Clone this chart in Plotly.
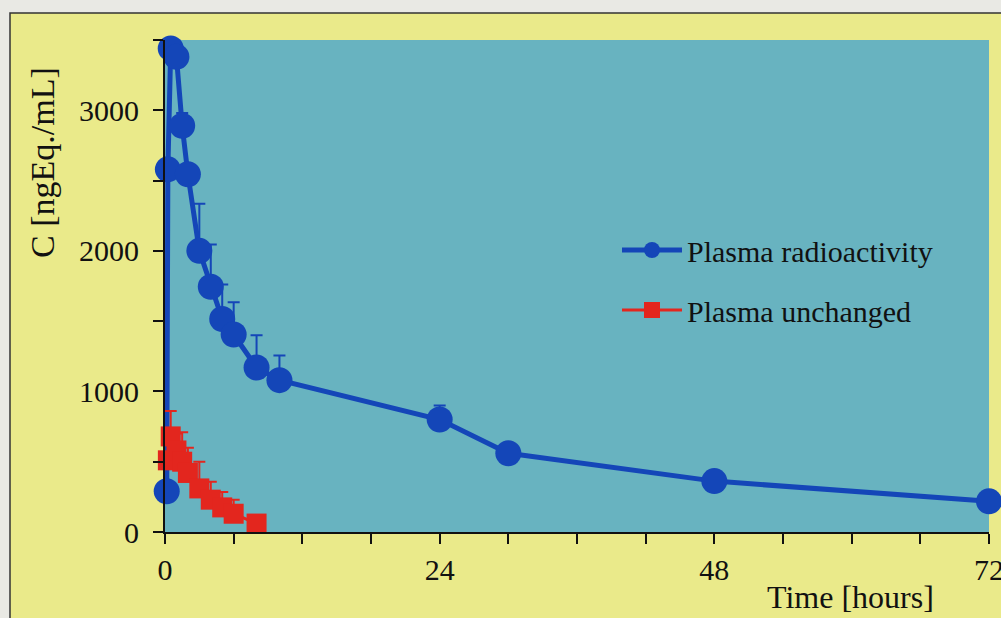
import plotly.graph_objects as go

# ---- data ----
time_radio = [0.15, 0.25, 0.5, 1, 1.5, 2, 3, 4, 5, 6, 8, 10, 24, 30, 48, 72]
conc_radio = [290, 2580, 3440, 3380, 2890, 2545, 2000, 1745, 1515, 1405, 1170, 1080, 800, 560, 362, 218]
err_radio = [0, 0, 160, 0, 90, 0, 336, 300, 245, 230, 230, 175, 100, 0, 0, 0]

time_unch = [0.25, 0.5, 1, 1.5, 2, 3, 4, 5, 6, 8]
conc_unch = [510, 680, 580, 500, 420, 310, 230, 175, 130, 60]
err_unch = [0, 180, 120, 210, 180, 190, 127, 110, 100, 0]

x_ticks = [0, 6, 12, 18, 24, 30, 36, 42, 48, 54, 60, 66, 72]
x_labels = ["0", "", "", "", "24", "", "", "", "48", "", "", "", "72"]
y_ticks = [0, 500, 1000, 1500, 2000, 2500, 3000, 3500]
y_labels = ["0", "", "1000", "", "2000", "", "3000", ""]

BLUE = "#1446B8"
RED = "#E3261E"
YELLOW = "#EAEA8A"
PLOTBG = "#68B3C0"
FONT = "Liberation Serif"

fig = go.Figure()
fig.add_trace(go.Scatter(
    x=time_radio, y=conc_radio, mode="lines+markers", name="Plasma radioactivity",
    legendgroup="a",
    line=dict(color=BLUE, width=5),
    marker=dict(color=BLUE, size=26, symbol="circle"),
    error_y=dict(type="data", array=err_radio, arrayminus=[0] * len(err_radio),
                 symmetric=False, color=BLUE, thickness=2, width=6),
    cliponaxis=False,
))
fig.add_trace(go.Scatter(
    x=time_unch, y=conc_unch, mode="lines+markers", name="Plasma unchanged",
    legendgroup="b",
    line=dict(color=RED, width=3),
    marker=dict(color=RED, size=20, symbol="square"),
    error_y=dict(type="data", array=err_unch, arrayminus=[0] * len(err_unch),
                 symmetric=False, color=RED, thickness=2, width=6),
    cliponaxis=False,
))

L, R, T, B = 165, 12, 40, 86
W, H = 1001, 618
pw = W - L - R
ph = H - T - B

def px2x(px):
    return (px - L) / pw

def py2y(py):
    return (H - B - py) / ph

fig.update_layout(
    width=W, height=H,
    margin=dict(l=L, r=R, t=T, b=B, autoexpand=False),
    paper_bgcolor="#E9E9E4",
    plot_bgcolor="rgba(0,0,0,0)",
    font=dict(family=FONT, size=30, color="#111111"),
    showlegend=True,
    legend=dict(x=px2x(617), y=py2y(224), xanchor="left", yanchor="top",
                bgcolor="rgba(0,0,0,0)", font=dict(family=FONT, size=30, color="#111111"),
                traceorder="grouped", tracegroupgap=18, itemwidth=60),
    xaxis=dict(range=[0, 72], tickvals=x_ticks, ticktext=x_labels, automargin=False,
               showgrid=False, zeroline=False, showline=True, linecolor="#111111",
               linewidth=2, ticks="outside", ticklen=10, tickwidth=2, tickcolor="#111111",
               ticklabeloverflow="allow",
               tickfont=dict(family=FONT, size=30, color="#111111")),
    yaxis=dict(range=[0, 3500], tickvals=y_ticks, ticktext=y_labels, automargin=False,
               showgrid=False, zeroline=False, showline=True, linecolor="#111111",
               linewidth=2, ticks="outside", ticklen=10, tickwidth=2, tickcolor="#111111",
               ticklabelstandoff=8, ticklabeloverflow="allow",
               tickfont=dict(family=FONT, size=30, color="#111111")),
    shapes=[
        dict(type="rect", xref="paper", yref="paper", layer="below",
             x0=px2x(10), x1=px2x(1030), y0=py2y(650), y1=py2y(13),
             fillcolor=YELLOW, line=dict(color="#333333", width=1.5)),
        dict(type="rect", xref="paper", yref="paper", layer="below",
             x0=0, x1=1, y0=0, y1=1, fillcolor=PLOTBG, line=dict(width=0)),
    ],
    annotations=[
        dict(text="C [ngEq./mL]", xref="paper", yref="paper", x=px2x(42), y=py2y(163),
             textangle=-90, showarrow=False, xanchor="center", yanchor="middle",
             font=dict(family=FONT, size=34, color="#111111")),
        dict(text="Time [hours]", xref="paper", yref="paper", x=px2x(850), y=py2y(597),
             showarrow=False, xanchor="center", yanchor="middle",
             font=dict(family=FONT, size=32, color="#111111")),
    ],
)

fig.write_html("out.html")
